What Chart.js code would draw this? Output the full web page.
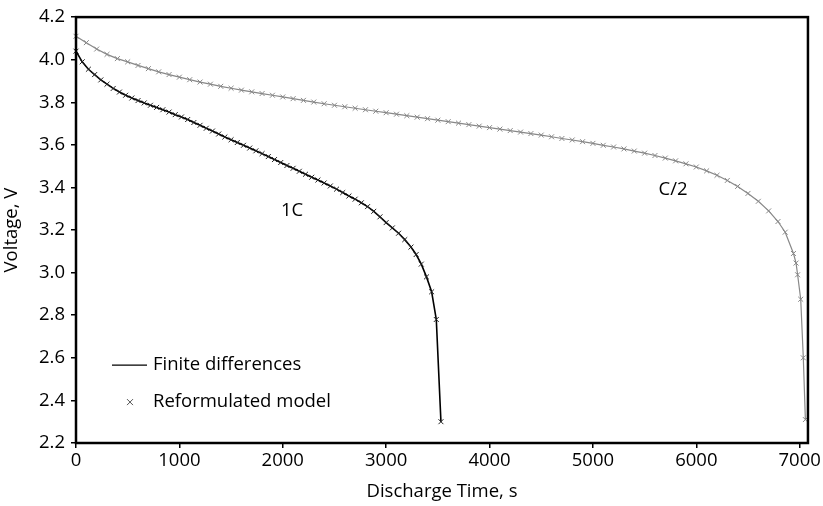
<!DOCTYPE html>
<html>
<head>
<meta charset="utf-8">
<script src="https://cdn.jsdelivr.net/npm/chart.js@4/dist/chart.umd.min.js"></script>
<style>
  html, body { margin: 0; padding: 0; background: #fff; }
  #wrap { width: 823px; height: 506px; }
</style>
</head>
<body>
<div id="wrap"><canvas id="myChart" width="823" height="506"></canvas></div>
<script>
// 1C discharge: time (s) and voltage (V)
const time1C = [0, 60, 120, 180, 240, 300, 360, 420, 480, 540, 600, 660, 720, 780, 840, 900, 960,
  1020, 1080, 1140, 1200, 1260, 1320, 1380, 1440, 1500, 1560, 1620, 1680, 1740, 1800, 1860, 1920,
  1980, 2040, 2100, 2160, 2220, 2280, 2340, 2400, 2460, 2520, 2580, 2640, 2700, 2760, 2820, 2880,
  2940, 3000, 3060, 3120, 3180, 3240, 3290, 3340, 3390, 3440, 3485, 3530];
const volt1C = [4.04, 3.99, 3.955, 3.93, 3.905, 3.885, 3.865, 3.848, 3.833, 3.82, 3.808, 3.797,
  3.786, 3.776, 3.765, 3.754, 3.742, 3.731, 3.719, 3.705, 3.692, 3.678, 3.665, 3.651, 3.637, 3.624,
  3.611, 3.598, 3.585, 3.572, 3.559, 3.545, 3.531, 3.517, 3.503, 3.49, 3.476, 3.462, 3.448, 3.435,
  3.421, 3.407, 3.392, 3.376, 3.36, 3.345, 3.328, 3.31, 3.288, 3.262, 3.235, 3.21, 3.185, 3.155,
  3.12, 3.085, 3.04, 2.98, 2.91, 2.78, 2.30];

// C/2 discharge
const timeHalfC = [0, 100, 200, 300, 400, 500, 600, 700, 800, 900, 1000, 1100, 1200, 1300, 1400,
  1500, 1600, 1700, 1800, 1900, 2000, 2100, 2200, 2300, 2400, 2500, 2600, 2700, 2800, 2900, 3000,
  3100, 3200, 3300, 3400, 3500, 3600, 3700, 3800, 3900, 4000, 4100, 4200, 4300, 4400, 4500, 4600,
  4700, 4800, 4900, 5000, 5100, 5200, 5300, 5400, 5500, 5600, 5700, 5800, 5900, 6000, 6100, 6200,
  6300, 6400, 6500, 6600, 6700, 6790, 6860, 6940, 6965, 6980, 7010, 7035, 7055];
const voltHalfC = [4.11, 4.08, 4.05, 4.025, 4.005, 3.99, 3.973, 3.958, 3.943, 3.93, 3.918, 3.906,
  3.895, 3.885, 3.875, 3.866, 3.857, 3.849, 3.841, 3.833, 3.825, 3.817, 3.809, 3.801, 3.793, 3.786,
  3.779, 3.772, 3.765, 3.758, 3.751, 3.744, 3.737, 3.73, 3.723, 3.716, 3.709, 3.702, 3.695, 3.688,
  3.681, 3.674, 3.667, 3.66, 3.653, 3.646, 3.638, 3.63, 3.623, 3.615, 3.607, 3.598, 3.59, 3.581,
  3.571, 3.561, 3.55, 3.538, 3.525, 3.511, 3.496, 3.478, 3.457, 3.433, 3.405, 3.372, 3.335, 3.29,
  3.24, 3.19, 3.09, 3.045, 2.99, 2.875, 2.60, 2.31];

const xTicks = [0, 1000, 2000, 3000, 4000, 5000, 6000, 7000];
const yTicks = [2.2, 2.4, 2.6, 2.8, 3.0, 3.2, 3.4, 3.6, 3.8, 4.0, 4.2];

const curveNames = ["1C", "C/2"];
const legendNames = ["Finite differences", "Reformulated model"];

const toPoints = (xs, ys) => xs.map((x, i) => ({ x: x, y: ys[i] }));

const FONT = "'Open Sans', sans-serif";
Chart.defaults.font.family = FONT;
Chart.defaults.font.size = 18.5;
Chart.defaults.color = "#000";

// box round the plot, curve names and the small legend
const decorations = {
  id: "decorations",
  afterDatasetsDraw(chart) {
    const { ctx, chartArea: a, scales } = chart;
    ctx.save();
    ctx.strokeStyle = "#000";
    ctx.lineWidth = 2.5;
    ctx.strokeRect(a.left, a.top, a.right - a.left, a.bottom - a.top);

    ctx.fillStyle = "#000";
    ctx.font = "18.5px " + FONT;
    ctx.textAlign = "center";
    ctx.textBaseline = "middle";
    const spots = [[2090, 3.29], [5775, 3.387]];
    curveNames.forEach((name, i) => {
      ctx.fillText(name, scales.x.getPixelForValue(spots[i][0]), scales.y.getPixelForValue(spots[i][1]));
    });

    // legend
    const lx = a.left + 36, ly1 = a.top + 348, ly2 = a.top + 385;
    ctx.lineWidth = 1.3;
    ctx.beginPath();
    ctx.moveTo(lx, ly1);
    ctx.lineTo(lx + 35, ly1);
    ctx.stroke();
    ctx.strokeStyle = "#555";
    ctx.lineWidth = 1;
    const cx = lx + 18, r = 3;
    ctx.beginPath();
    ctx.moveTo(cx - r, ly2 - r); ctx.lineTo(cx + r, ly2 + r);
    ctx.moveTo(cx + r, ly2 - r); ctx.lineTo(cx - r, ly2 + r);
    ctx.stroke();
    ctx.textAlign = "left";
    ctx.fillText(legendNames[0], lx + 41, ly1);
    ctx.fillText(legendNames[1], lx + 41, ly2);
    ctx.restore();
  },
};

const config = {
  type: "line",
  data: {
    datasets: [
      {
        label: "1C",
        data: toPoints(time1C, volt1C),
        borderColor: "#000",
        borderWidth: 1.6,
        pointStyle: "crossRot",
        pointRadius: 3.5,
        pointBorderWidth: 1,
        pointBorderColor: "#222",
        tension: 0,
        clip: false,
      },
      {
        label: "C/2",
        data: toPoints(timeHalfC, voltHalfC),
        borderColor: "#888",
        borderWidth: 1.2,
        pointStyle: "crossRot",
        pointRadius: 3.5,
        pointBorderWidth: 1,
        pointBorderColor: "#888",
        tension: 0,
        clip: false,
      },
    ],
  },
  options: {
    responsive: false,
    animation: false,
    events: [],
    layout: { padding: { top: 10, right: 14, left: 0, bottom: 0 } },
    scales: {
      x: {
        type: "linear",
        min: 0,
        max: 7080,
        afterBuildTicks: (s) => { s.ticks = xTicks.map((v) => ({ value: v })); },
        afterFit: (s) => { s.height = 63; },
        ticks: { padding: 2, callback: (v) => String(v) },
        grid: { drawOnChartArea: false, drawTicks: true, tickLength: 5, color: "#000", lineWidth: 1.5 },
        border: { display: false },
        title: { display: true, text: "Discharge Time, s", padding: { top: 0, bottom: 3 } },
      },
      y: {
        min: 2.2,
        max: 4.2,
        afterBuildTicks: (s) => { s.ticks = yTicks.map((v) => ({ value: v })); },
        afterFit: (s) => { s.width = 76; },
        ticks: { padding: 6, callback: (v) => Number(v).toFixed(1) },
        grid: { drawOnChartArea: false, drawTicks: true, tickLength: 5, color: "#000", lineWidth: 1.5 },
        border: { display: false },
        title: { display: true, text: "Voltage, V", padding: { top: 1, bottom: 0 } },
      },
    },
    plugins: {
      legend: { display: false },
      tooltip: { enabled: false },
    },
  },
  plugins: [decorations],
};

const myChart = new Chart(document.getElementById("myChart"), config);
</script>
</body>
</html>
